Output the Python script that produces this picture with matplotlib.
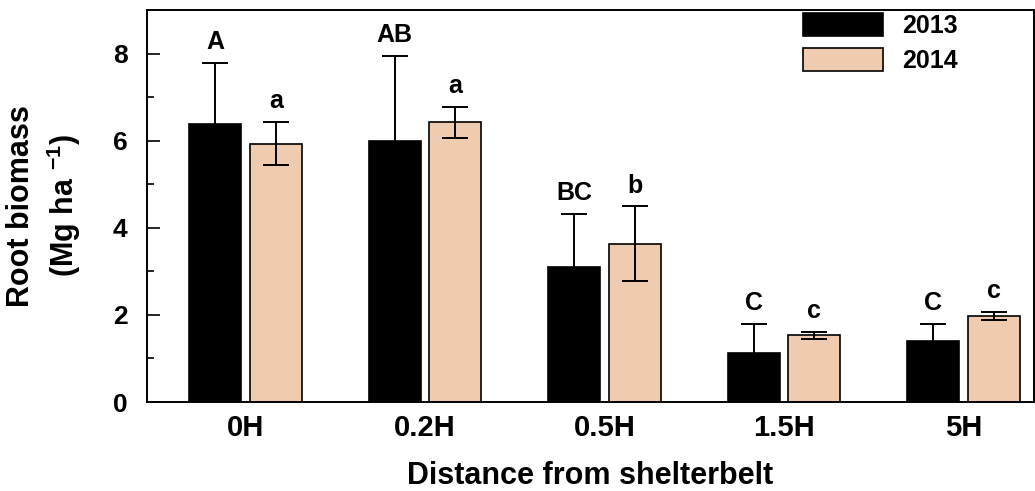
import matplotlib.pyplot as plt
import numpy as np
from matplotlib.ticker import MultipleLocator

plt.rcParams.update(
    {
        "font.family": "Liberation Sans",
        "mathtext.default": "regular",
    }
)

# root biomass (Mg ha-1) by distance from the shelterbelt
distances = ["0H", "0.2H", "0.5H", "1.5H", "5H"]
biomass_2013 = [6.39, 5.99, 3.10, 1.13, 1.41]
error_2013 = [1.39, 1.96, 1.21, 0.66, 0.38]
letters_2013 = ["A", "AB", "BC", "C", "C"]
biomass_2014 = [5.93, 6.42, 3.63, 1.53, 1.98]
error_2014 = [0.50, 0.35, 0.86, 0.08, 0.09]
letters_2014 = ["a", "a", "b", "c", "c"]

TAN = "#EFCCB0"


def main():
    fig = plt.figure(figsize=(10.35, 4.91), dpi=100)
    ax = fig.add_axes([147 / 1035, 1 - 402 / 491, 887 / 1035, 392 / 491])

    x = np.arange(len(distances))
    width = 0.29
    offset = 0.168

    bars_13 = ax.bar(x - offset, biomass_2013, width, color="black",
                     edgecolor="black", linewidth=1.2, label="2013", zorder=2)
    bars_14 = ax.bar(x + offset, biomass_2014, width, color=TAN,
                     edgecolor="black", linewidth=1.2, label="2014", zorder=2)

    for xs, ys, es in [(x - offset, biomass_2013, error_2013),
                       (x + offset, biomass_2014, error_2014)]:
        ax.errorbar(xs, ys, yerr=es, fmt="none", ecolor="black",
                    elinewidth=1.4, capsize=9.5, capthick=1.4, zorder=3)

    for xs, ys, es, labels in [(x - offset, biomass_2013, error_2013, letters_2013),
                               (x + offset, biomass_2014, error_2014, letters_2014)]:
        for xi, yi, ei, lab in zip(xs, ys, es, labels):
            ax.annotate(lab, (xi, yi + ei), xytext=(0, 10),
                        textcoords="offset points", ha="center",
                        va="baseline", fontsize=18, fontweight="bold")

    ax.set_xlim(-0.549, 4.393)
    ax.set_ylim(0, 9)
    ax.set_xticks(x)
    ax.set_xticklabels(distances, fontsize=21, fontweight="bold")
    ax.yaxis.set_major_locator(MultipleLocator(2))
    ax.yaxis.set_minor_locator(MultipleLocator(1))
    ax.tick_params(axis="y", which="major", direction="in", length=9.5,
                   width=1.2, pad=14, labelsize=19)
    ax.tick_params(axis="y", which="minor", direction="in", length=5,
                   width=1.2)
    for lab in ax.get_yticklabels():
        lab.set_fontweight("bold")
    ax.tick_params(axis="x", length=0, pad=9)

    for spine in ax.spines.values():
        spine.set_linewidth(1.4)

    ax.set_xlabel("Distance from shelterbelt", fontsize=22,
                  fontweight="bold", labelpad=13)
    ax.set_ylabel("Root biomass\n(Mg ha $^{-1}$)", fontsize=22,
                  fontweight="bold", linespacing=1.3)
    ax.yaxis.set_label_coords(-0.072, 0.5)

    ax.legend(handles=[bars_13, bars_14], loc="upper left",
              bbox_to_anchor=(803 / 1035, 1 - 13 / 491),
              bbox_transform=fig.transFigure, frameon=False,
              prop={"size": 18, "weight": "bold"}, borderpad=0,
              borderaxespad=0, handlelength=3.2, handleheight=1.05,
              handletextpad=0.75, labelspacing=0.4)

    fig.savefig("out.png", dpi=100)
    plt.close(fig)


if __name__ == "__main__":
    main()
